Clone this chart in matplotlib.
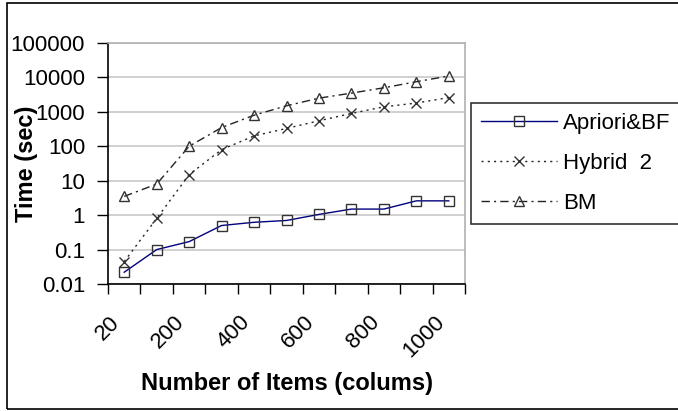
import matplotlib
matplotlib.use("Agg")
import matplotlib.pyplot as plt
import matplotlib.patches as patches
import matplotlib.transforms as mtransforms
from matplotlib.ticker import FixedLocator
import numpy as np

plt.rcParams['font.family'] = ['Liberation Sans', 'DejaVu Sans']

# x categories (number of items) and timings in seconds
items = [20, 100, 200, 300, 400, 500, 600, 700, 800, 900, 1000]
apriori_bf = [0.022, 0.1, 0.17, 0.5, 0.62, 0.7, 1.05, 1.5, 1.5, 2.6, 2.6]
hybrid_2 = [0.045, 0.8, 15, 80, 200, 330, 550, 900, 1400, 1800, 2600]
bm = [3.5, 8, 100, 350, 800, 1500, 2500, 3500, 5000, 7500, 11000]

tick_labels = ["20", "200", "400", "600", "800", "1000"]
y_ticks = [0.01, 0.1, 1, 10, 100, 1000, 10000, 100000]
y_labels = ["0.01", "0.1", "1", "10", "100", "1000", "10000", "100000"]

W, H = 678, 411
fig = plt.figure(figsize=(W / 100, H / 100), dpi=100, facecolor='white')
ax = fig.add_axes([108 / W, 1 - 284 / H, (465 - 108) / W, (284 - 43) / H])

x = np.arange(len(items))

ax.plot(x, apriori_bf, color='#000080', lw=1.0, marker='s', markersize=7,
        markerfacecolor='none', markeredgecolor='#333333', markeredgewidth=1.0,
        label='Apriori&BF')
ax.plot(x, hybrid_2, color='#222222', lw=1.0, linestyle=(0, (1.5, 3)),
        marker='x', markersize=7, markeredgecolor='#333333',
        markeredgewidth=1.0, label='Hybrid  2')
ax.plot(x, bm, color='#222222', lw=1.0, linestyle=(0, (6, 3, 1.5, 3)),
        marker='^', markersize=7.5, markerfacecolor='none',
        markeredgecolor='#333333', markeredgewidth=1.0, label='BM')

ax.set_yscale('log')
ax.set_ylim(0.01, 100000)
ax.set_xlim(-0.5, len(items) - 0.5)

ax.yaxis.set_major_locator(FixedLocator(y_ticks))
ax.yaxis.set_minor_locator(FixedLocator([]))
ax.set_yticklabels(y_labels, fontsize=16)
ax.tick_params(axis='y', direction='out', length=8, width=1, pad=8.5,
               color='black')

ax.grid(axis='y', color='#c8c8c8', lw=1.2)
ax.set_axisbelow(True)

# category boundaries get the tick marks, labels sit on every other category
ax.xaxis.set_major_locator(FixedLocator(x[::2]))
ax.set_xticklabels(tick_labels, fontsize=16, rotation=45, ha='right', va='top')
shift = mtransforms.ScaledTranslation(-8 / 100, 0, fig.dpi_scale_trans)
for lbl in ax.get_xticklabels():
    lbl.set_transform(lbl.get_transform() + shift)
ax.xaxis.set_minor_locator(FixedLocator(np.arange(-0.5, len(items), 1)))
ax.tick_params(axis='x', which='major', length=0, pad=20)
ax.tick_params(axis='x', which='minor', direction='out', length=7, width=1,
               color='black')

for s in ['top', 'right']:
    ax.spines[s].set_color('#b0b0b0')
    ax.spines[s].set_linewidth(1.2)
for s in ['left', 'bottom']:
    ax.spines[s].set_color('black')
    ax.spines[s].set_linewidth(1.2)

fig.text(27 / W, 1 - 164 / H, 'Time (sec)', rotation=90, fontsize=17,
         fontweight='bold', ha='center', va='center')
fig.text(287 / W, 1 - 383 / H, 'Number of Items (colums)', fontsize=17,
         fontweight='bold', ha='center', va='center')

leg = fig.legend(loc='upper left', bbox_to_anchor=(471 / W, 1 - 103 / H),
                 fontsize=16, frameon=True, fancybox=False, edgecolor='black',
                 handlelength=3.4, labelspacing=0.85, borderpad=0.45,
                 borderaxespad=0, handletextpad=0.3)
leg.get_frame().set_linewidth(1.2)

# outer chart frame (right side runs off the picture)
fig.patches.append(patches.Rectangle((7 / W, 2 / H), 1, 1 - 5 / H,
                                     transform=fig.transFigure, fill=False,
                                     edgecolor='black', lw=1.2))

fig.savefig('out.png', dpi=100)
